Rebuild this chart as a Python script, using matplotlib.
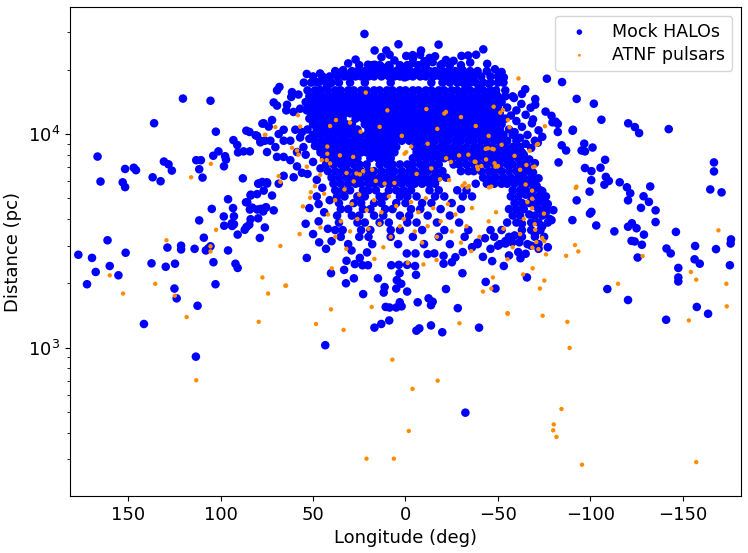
import matplotlib
matplotlib.use("Agg")
import matplotlib.pyplot as plt
import numpy as np

# ---------------- Mock HALOs: scattered points (wings / bottom) ----------------
halo_wing_lon = [120.4, 105.5, 136, 102.6, 166.6, 151.7, 147, 145.8, 165, 153, 151.7, 136.8, 132.5,
                 130.7, 128.2, 126.4, 113.2, 110.7, 111.6, 109.8, 104, 101.2, 97.6, 98.2, 97.1, 88,
                 93.1, 91, 90.6, 87.6, 84.2, 86.1, 84.4, 81.1, 77.4, 78.5, 76.1, 74, 79.7, 77.5, 74.9,
                 83.7, 85.6, 93.3, 96, 86.3, 104.8, 98.3, 92.8, 94, 98.1, 93.8, 92.8, 84.2, 80.2, 78.3,
                 77, 75.4, 83.8, 79.7, 76.1, 86, 84.5, 87, 90.8, 78.8, 111.6, 109.1, 105.5, 106.6, 108,
                 103.9, 96, 92, 90.8, 161.2, 151.4, 177, 169.6, 167.6, 160, 155.3, 172.3, 137.4, 129.7,
                 124.7, 128.8, 121.4, 121.4, 114.1, 102.8, 125, 123.8, 112.5, 141.5, 113.4,
                 -76.5, -84.7, -92.6, -101.9, -106, -120.5, -124.1, -126.4, -142.4, -90.4, -82.4, -75.8,
                 -79, -79.5, -82.4, -84.5, -86.9, -96.7, -95.3, -97.1, -101.2, -108, -82.8, -97.1, -100.6,
                 -105.5, -100.5, -108.4, -110, -107.6, -115.9, -119.8, -121.6, -120.4, -132.4, -128.8,
                 -131.7, -127.4, -135.3, -135.3, -99.6, -92.6, -99.8, -100.6, -90.3, -103.2, -113,
                 -120.4, -122.5, -125, -129, -122.3, -124, -127.9, -125.6, -146.3, -141.2, -143.5,
                 -156.7, -168, -176.1, -175.9, -175.5, -156.4, -159.2, -147.6, -147.6, -147.6, -166.9,
                 -166.9, -164.9, -171, -109.2, -120.4, -141, -157.6, -163.7, -81.3, -90.6, -71.6,
                 43.4, 16.8, 13.1, 8.8, 10.7, 8.6, 5, 2.1, 3.1, -6.6, -13.8, -14.7, -13.8, -7.5, -5.9,
                 -19.9, -28.3, -39.8, -32.4,
                 53.4, 46.7, 40.3, 32.2, 27.9, 33.2, 31.9, 27.4, 23.3, 20.3, 24.7, 20.8, 29.2, 22.9,
                 14.9, 11.3, 11.8, 5, 2.3, 4.7, 3.2, 7.7, 3.6, -0.9, -0.9, -5.7, -5.2, -12.5, -21.9,
                 -30.8, -20.6, -25.1, -20.6, -15.6, -12, -5.4, -0.7, -41.9, -46.9, -53.2, -43.4, -48.7,
                 -62.2, -65.7, -57.7, -54.1, -61.6]
halo_wing_dist = [14650, 14310, 11230, 10250, 7840, 6860, 6950, 6770, 5990, 5940, 5640, 6270, 6010,
                  7430, 7210, 6740, 7540, 7540, 6840, 6250, 7910, 8290, 7870, 7060, 7590, 6200,
                  9360, 8880, 8200, 8290, 8290, 10360, 10220, 9860, 11180, 9140, 9300, 10830, 5860, 5960, 5860,
                  5200, 4790, 4500, 4950, 4790, 4460, 4110, 4120, 3820, 3720, 3710, 3780, 4430, 4430, 4460,
                  4340, 4540, 3990, 4030, 3650, 3670, 3760, 3560, 3380, 3260, 3940, 3270, 2980, 2920, 2850,
                  2510, 2850, 2470, 2360, 3180, 2780, 2720, 2630, 2260, 2410, 2180, 1980, 2480, 2390,
                  2470, 2940, 3000, 2880, 2900, 1980, 1890, 1700, 1570, 1290, 907,
                  18150, 17500, 14600, 13860, 11660, 11220, 10770, 10100, 10540, 10360, 10220, 12730,
                  12160, 11340, 11150, 8850, 8370, 9010, 8370, 8290, 8640, 7570, 7360, 6930, 6700,
                  6950, 6080, 6300, 6030, 5790, 5940, 5630, 5280, 4890, 5680, 5110,
                  4810, 4510, 4390, 3870, 5370, 4890, 4240, 4320, 3950, 3730, 3500,
                  3680, 3820, 3620, 3380, 3160, 3140, 3030, 2640, 3480, 2910, 2760,
                  2990, 2890, 3210, 3070, 2430, 2590, 2470, 2360, 2130, 2040, 7360,
                  6680, 5500, 5330, 1880, 1670, 1350, 1550, 1440, 11420, 10470, 9100,
                  1026, 1240, 1290, 1340, 1550, 1540, 1540, 1560, 1630, 1630, 1580, 1640, 1270, 1230, 1200,
                  1180, 1530, 1240, 496,
                  2630, 3110, 2230, 2000, 2110, 2310, 2550, 2460, 2430, 2430, 2630, 2790, 2850, 1780,
                  2110, 1920, 1810, 1890, 1990, 2070, 2230, 2430, 2440, 2440, 1830, 2190, 2410, 1700, 1880,
                  2230, 2470, 2510, 2690, 2760, 2740, 2760, 2760, 2660, 2540, 2410, 2030, 1890,
                  2620, 2130, 3110, 3070, 3110]

# ---------------- Mock HALOs: outer arc (individually read) ----------------
halo_arc_lon = [22.2, 3.8, -17.9, 16.7, 10.4, 8.6, -0.4, -3.9, -8.4, -7.9, -3.9, -10.2, -14.7, -20, -21.9,
                20.3, 16.7, 13.1, 8.6, 4.1, 1.5, -2.1, -5.7, 53.4, 46.2, 44.4, 48, 40.8, 42.6, 33.7, 30.1,
                24.7, 21.1, 15.7, 10.4, 5, 0.5, -9.3, -16.5, -23.6, -27.2, -30.8, -33.5, -39.8, -45.1,
                -48.7, -32.6, -42.1, -38.2, -33.9, -30.3, -44.2, -48.4, -52, -53.2, -64.8, -63, -58.7,
                -67.7, -62.7, -70.2, -70.2, -68.4, 27, 13, 6, -13, -26, -35, 31, -4, -16]
halo_arc_dist = [29400, 26300, 26200, 24600, 24600, 23500, 23200, 23400, 24600, 23500, 21500, 21900, 21700,
                 21300, 22200, 21100, 21100, 20700, 20700, 19900, 20000, 19900, 19000, 19100, 19200, 18200,
                 17500, 17200, 16600, 19900, 19100, 19100, 18800, 19200, 19000, 18800, 18400, 18800, 18800,
                 18800, 18200, 19900, 18400, 16900, 17200, 15500, 16600, 24900, 23500, 23300, 23200, 21300,
                 20100, 19500, 18400, 16200, 15400, 14750, 13270, 13830, 14570, 13720, 11220, 22300, 22900,
                 22100, 22700, 22000, 21600, 21400, 22500, 23100]

# ---------------- Mock HALOs: left arm ----------------
halo_arm_lon = [68.2, 69.5, 61.4, 57.9, 61.8, 64.1, 71.3, 69.5, 64.5, 60.6, 57, 53.4, 49.8, 49.8, 46.2,
                72.2, 76.7, 80.3, 78.5, 73.1, 68.6, 65.9, 59.6, 65.9, 62.3, 57, 55.2, 58.7, 62.3, 65.9,
                69.5, 70.4, 74.9, 58.7, 56, 60.5, 65.9, 68.6, 74.9, 79.4, 76.7, 72.2, 80.3, 83.8, 82.9,
                75.8, 71.3, 45, 48, 52, 44, 47, 42, 50, 54, 40, 43, 48, 53, 46, 50, 54, 49, 52, 56, 47, 41]
halo_arm_dist = [16600, 16000, 15700, 15300, 14900, 13700, 14050, 13580, 12900, 12680, 13130, 12900, 12680,
                 14700, 16000, 11620, 11220, 9800, 9300, 9300, 9990, 10470, 10470, 9300, 9300, 9630, 8680,
                 8230, 7540, 7810, 7810, 8680, 8230, 7050, 6580, 6270, 6370, 5850, 5940, 5850, 5430, 5150,
                 5230, 5150, 4520, 4520, 4390, 5600, 5100, 4500, 4300, 3900, 3600, 3400, 3800, 3150, 2900,
                 6100, 6500, 6900, 7400, 8000, 8800, 9500, 10200, 4700, 4900]

# ---------------- Mock HALOs: right vertical band ----------------
halo_right_lon = [-57, -60, -63, -59, -62, -66, -65, -68, -64, -67, -70, -69, -72, -71, -74, -73, -77, -76,
                  -78, -74, -70, -75, -77, -72, -68, -65, -61, -56, -60, -65, -69, -72, -74, -70, -61,
                  -66, -63, -68, -65, -70, -67, -63, -59, -54, -50, -46, -43, -39, -36, -31, -27, -80, -79]
halo_right_dist = [12200, 11500, 10800, 10200, 9600, 9900, 9000, 8600, 8000, 7600, 7300, 6600, 6200, 5700,
                   5400, 4900, 4700, 4300, 4000, 3700, 3400, 3300, 2950, 2900, 3000, 2750, 2800, 2700,
                   12900, 12300, 11700, 10400, 9700, 9300, 8400, 7000, 6400, 5900, 5200, 4600, 4200, 3800,
                   3350, 3150, 3000, 2900, 3250, 3100, 2950, 2800, 2650, 4400, 3950]

# ---------------- Mock HALOs: dense arc / band / core, read row by row ----------------
halo_rows = {
    21000: [25, 18, 14, 9, 3, -1, -7, -11, -19, -24, -30],
    19700: [38, 34, 29, 26, 22, 19, 15, 12, 8, 5, 2, -2, -6, -10, -13, -16, -20, -23, -27, -31, -35, -39, -44],
    18600: [50, 45, 41, 37, 33, 30, 27, 24, 20, 17, 13, 9, 6, 3, -1, -4, -8, -11, -15, -19, -22, -26, -29,
            -33, -37, -41, -46, -50],
    17400: [55, 51, 47, 43, 40, 36, 30, 22, 8, -14, -20, -24, -28, -31, -35, -38, -42, -46, -50, -53],
    16000: [53, 49, 46, 42, 38, 35, 31, 28, 24, 21, 17, 14, 10, 7, 3, 0, -4, -7, -11, -14, -18, -21, -25, -28,
            -32, -35, -39, -42, -46, -49, -54],
    15000: [52, 48, 45, 41, 38, 34, 31, 27, 24, 20, 17, 13, 10, 6, 3, -1, -4, -8, -11, -15, -18, -22, -25,
            -29, -32, -36, -39, -43, -46, -50, -54, -58],
    14100: [54, 50, 47, 43, 40, 36, 33, 29, 26, 22, 19, 15, 12, 8, 5, 1, -2, -6, -9, -13, -16, -20, -23, -27,
            -30, -34, -37, -41, -44, -48, -52],
    13300: [53, 49, 45, 42, 38, 35, 31, 28, 24, 21, 17, 14, 10, 7, 3, 0, -4, -7, -11, -14, -18, -21, -25, -28,
            -32, -35, -39, -42, -46, -50, -55],
    12500: [51, 47, 44, 40, 37, 33, 30, 26, 23, 19, 16, 12, 9, 5, 2, -2, -5, -9, -12, -16, -19, -23, -26,
            -30, -33, -37, -40, -44, -47, -51],
    11800: [52, 49, 45, 41, 38, 34, 27, 23, 20, 16, 13, 9, 6, 2, -1, -5, -8, -12, -15, -19, -22, -26, -29,
            -33, -36, -40, -43, -47, -50, -54],
    11100: [50, 46, 43, 39, 36, 32, 29, 22, 18, 15, 11, 8, 4, 1, -3, -6, -10, -13, -17, -20, -24, -27, -31,
            -34, -38, -41, -45, -48, -52],
    10500: [53, 48, 44, 41, 37, 33, 30, 26, 20, 16, 13, 9, 6, 2, -1, -5, -8, -12, -15, -19, -22, -26, -29,
            -33, -36, -40, -43, -47, -51, -56],
    9900: [50, 46, 42, 39, 35, 32, 28, 25, 21, 18, 14, 11, 7, 4, 0, -3, -7, -10, -14, -17, -21, -24, -28,
           -31, -35, -38, -42, -45, -49, -53, -58],
    9300: [49, 45, 41, 38, 34, 31, 27, 24, 20, 16, 13, 9, 6, 2, -2, -6, -9, -13, -16, -20, -23, -27, -30, -34,
           -37, -41, -44, -48, -51, -55, -60],
    8700: [47, 43, 40, 36, 33, 29, 25, 22, 18, 15, 11, 8, 5, -5, -8, -12, -15, -19, -22, -26, -29, -33, -37,
           -40, -44, -47, -51, -54, -58, -62],
    8200: [46, 42, 38, 35, 31, 28, 24, 21, 17, 13, 10, 6, -6, -9, -13, -16, -20, -23, -27, -30, -34, -38, -41,
           -45, -48, -52, -55, -59, -63],
    7700: [44, 40, 37, 33, 30, 26, 19, 15, 12, 8, -4, -7, -11, -14, -18, -21, -25, -29, -32, -36, -39, -43,
           -46, -50, -53, -57, -61, -64],
    7200: [43, 39, 35, 32, 28, 25, 21, 14, 10, 7, 3, -1, -4, -8, -11, -15, -18, -26, -29, -33, -37, -40, -44,
           -48, -51, -55, -58, -62, -65],
    6700: [42, 38, 34, 31, 27, 24, 20, 17, 13, 9, 6, 2, -2, -5, -9, -12, -16, -20, -30, -34, -37, -41, -45,
           -48, -52, -56, -60, -64, -67],
    6250: [40, 36, 32, 28, 25, 21, 18, 14, 11, 7, 3, 0, -4, -7, -11, -15, -18, -22, -42, -46, -49, -53, -57,
           -61, -64, -68],
    5850: [39, 35, 31, 27, 24, 20, 17, 13, 9, 6, 2, -2, -5, -9, -13, -16, -38, -44, -48, -52, -55, -59, -63,
           -66, -70],
    5450: [38, 34, 30, 23, 20, 16, 9, 5, 1, -3, -13, -18, -28, -33, -58, -62, -65, -69, -73],
    5100: [37, 33, 26, 22, 14, 11, 3, -1, -6, -16, -21, -31, -36, -57, -61, -68, -72, -76],
    4750: [36, 28, 24, 17, 13, 5, 0, -9, -14, -25, -59, -63, -67, -71, -75],
    4450: [35, 31, 23, 19, 11, 7, -3, -8, -19, -30, -56, -60, -64, -72, -76],
    4150: [37, 29, 25, 17, 12, 3, -2, -12, -24, -58, -62, -70, -74],
    3850: [36, 26, 22, 14, 9, -1, -6, -17, -29, -55, -60, -68, -72, -77],
    3550: [38, 34, 24, 19, 8, 3, -9, -21, -34, -46, -52, -63, -68, -73],
    3300: [35, 25, 20, 8, -4, -18, -32, -48, -56, -63, -70],
    3050: [31, 18, 4, -10, -24, -39, -51, -66, -72],
}

# ---------------- ATNF pulsars ----------------
psr_lon = [76.1, 105.3, 116, 102.5, 129.3, 105.5, 105.5, 160, 135.4, 77.4,
           -75.4, -71.1, -69.1, -92.1, -68.5, -68.5, -68.5, -74.9, -69.9, -70.2, -74, -70.8, -75.1, -68.6,
           -71.9, -76, -91.7, -93.5, -86.9, -68.8, -75.1, -72.7, -128.3, -115, -169.3, -154.4, -157.3, -173.6,
           -74.2, -87.6, -88.8, -153.3, -173.8, -84.4, -80.2, -79.9, -81.7, -95.5, -157.3,
           152.8, 124.8, 118.4, 74.3, 64.6, 79.4, 113.2,
           40.3, 48.4, 33.5, 18.3, -29.2, -55.3, 7.1, -17.4, -3.8, -1.8, 21.1, 6.3,
           51.2, 51.6, 55.5, 57.3, 67.7, 65, 39.9, 16.8, -1.2, -9.7, -16.8, -35.6, -47.3, -41.9, -46.4, -55.2,
           -55.2, -63.6,
           21.5, 9.8, -11.3, -21, -21.9, -17.2, 24.3, 58.2, 57, 70.4, 75.8, 37.6, 40.8, 61.4, 58.7, 57.9, 53.4,
           68.6, 67.7, 46.2, 42.3, 42.3, 45.3, 42.6, 40.8, 35.5, 28.3, 31.9, 26.5, 24.7, 22.9, 16.1, 11.3, 0.5,
           -0.4, -3.1, -29, -24.6, -18.7, -23.6, -30.8, -33.5, -37.9, -38.8, -43.4, -46.9, -48.7, -43.6, -45.1,
           -61.1, -47.7, -52.7, -51.3, -55.4, -56.3, -44.6, -47.7, -48.2, -50, -41, -39.2, -37.4, -67.2, -65.4,
           -69.9, -71.7, -32, -34.3, -46.4, -92.5,
           49, 44, 38, 33, 29, 25, 21, 17, 13, 9, 5, 1, -3, -7, -11, -15, -19, -23, -27, -33, -36, -40, 35, 30,
           26, 20, 14, 8, 3, -5, -12, -17, -25, -30, 42, 46, 38, 32, 12, -9, 28, 18, 6, -6, -14, -22, -34, -12,
           2, 14, 30, -30, -38, -45, -52, -59, -62, -65, -66, -64, -62, -58, -53, -49, -45]
psr_dist = [9900, 7250, 6270, 3560, 3180, 2980, 2820, 2180, 1990, 2130,
            10870, 8910, 6990, 5590, 5430, 4980, 4490, 4240, 3780, 3560, 3260, 3120, 3150, 2940,
            2890, 2730, 3020, 2820, 2690, 2350, 2060, 1890, 2680, 1990, 3540, 2260, 2080, 1990,
            1410, 1320, 997, 1340, 1560, 516, 437, 410, 382, 283, 291,
            1790, 1750, 1390, 1790, 1950, 1320, 703,
            1510, 1290, 1210, 1550, 1300, 1440, 878, 700, 641, 407, 302, 302,
            5340, 5030, 4580, 3400, 2990, 1950, 2350, 2600, 2490, 2450, 2570, 2830, 2130, 1830, 1890, 1450,
            2590, 2200,
            15630, 12900, 13080, 12470, 12680, 10570, 10250, 12240, 10830, 10770, 9900, 11620, 10900, 8620,
            8370, 8000, 7030, 6350, 5970, 6430, 8730, 8080, 7540, 7540, 7280, 7940, 7810, 6570, 6530, 6470,
            6700, 6030, 5860, 8080, 8220, 8730, 7940, 7400, 6140, 6080, 5720, 5620, 7400, 7030, 8520, 8520,
            7030, 7600, 5620,
            18200, 13420, 12950, 12580, 11630, 10750, 8570, 8480, 7290, 7080, 7080, 6840, 7420, 8350, 7160,
            7040, 8980, 5880, 5710, 5670, 5670,
            5700, 5250, 4900, 5500, 4700, 5200, 4400, 4900, 4300, 5100, 4600, 4000, 4800, 4300, 5000, 4500,
            3900, 4700, 4200, 3700, 4500, 3300, 3900, 3500, 4000, 3600, 3800, 3300, 3700, 3500, 3700, 3300,
            3500, 3100, 4200, 3650, 3300, 2900, 2950, 3100, 6000, 6800, 5900, 6500, 6900, 7700, 8000, 9000,
            9800, 10800, 11300, 12000, 10900, 9800, 8900, 7900, 6800, 5800, 4800, 4000, 3400, 2950, 3600,
            4300, 3900]

# assemble the halo sample
row_lon = [l for d, ls in halo_rows.items() for l in ls]
row_dist = [d for d, ls in halo_rows.items() for l in ls]
halo_lon = np.array(halo_wing_lon + halo_arc_lon + halo_arm_lon + halo_right_lon + row_lon, dtype=float)
halo_dist = np.array(halo_wing_dist + halo_arc_dist + halo_arm_dist + halo_right_dist + row_dist, dtype=float)

fig = plt.figure(figsize=(7.48, 5.53), dpi=100)
ax = fig.add_axes([0.0936, 0.1031, 0.8970, 0.8842])

ax.scatter(halo_lon, halo_dist, s=38, c='#0000ff', edgecolors='none', label='Mock HALOs', zorder=2)
ax.scatter(psr_lon, psr_dist, s=10, c='#ff8c00', edgecolors='none', label='ATNF pulsars', zorder=3)

ax.set_yscale('log')
ax.set_xlim(181.5, -181.5)
ax.set_ylim(202, 39300)
ax.set_xticks([150, 100, 50, 0, -50, -100, -150])
ax.tick_params(axis='both', which='major', labelsize=13)
ax.set_xlabel('Longitude (deg)', fontsize=13)
ax.set_ylabel('Distance (pc)', fontsize=13)

leg = ax.legend(loc='upper right', fontsize=12.5, markerscale=0.65, handletextpad=0.9,
                borderpad=0.4, labelspacing=0.3)

fig.savefig('out.png', dpi=100)
